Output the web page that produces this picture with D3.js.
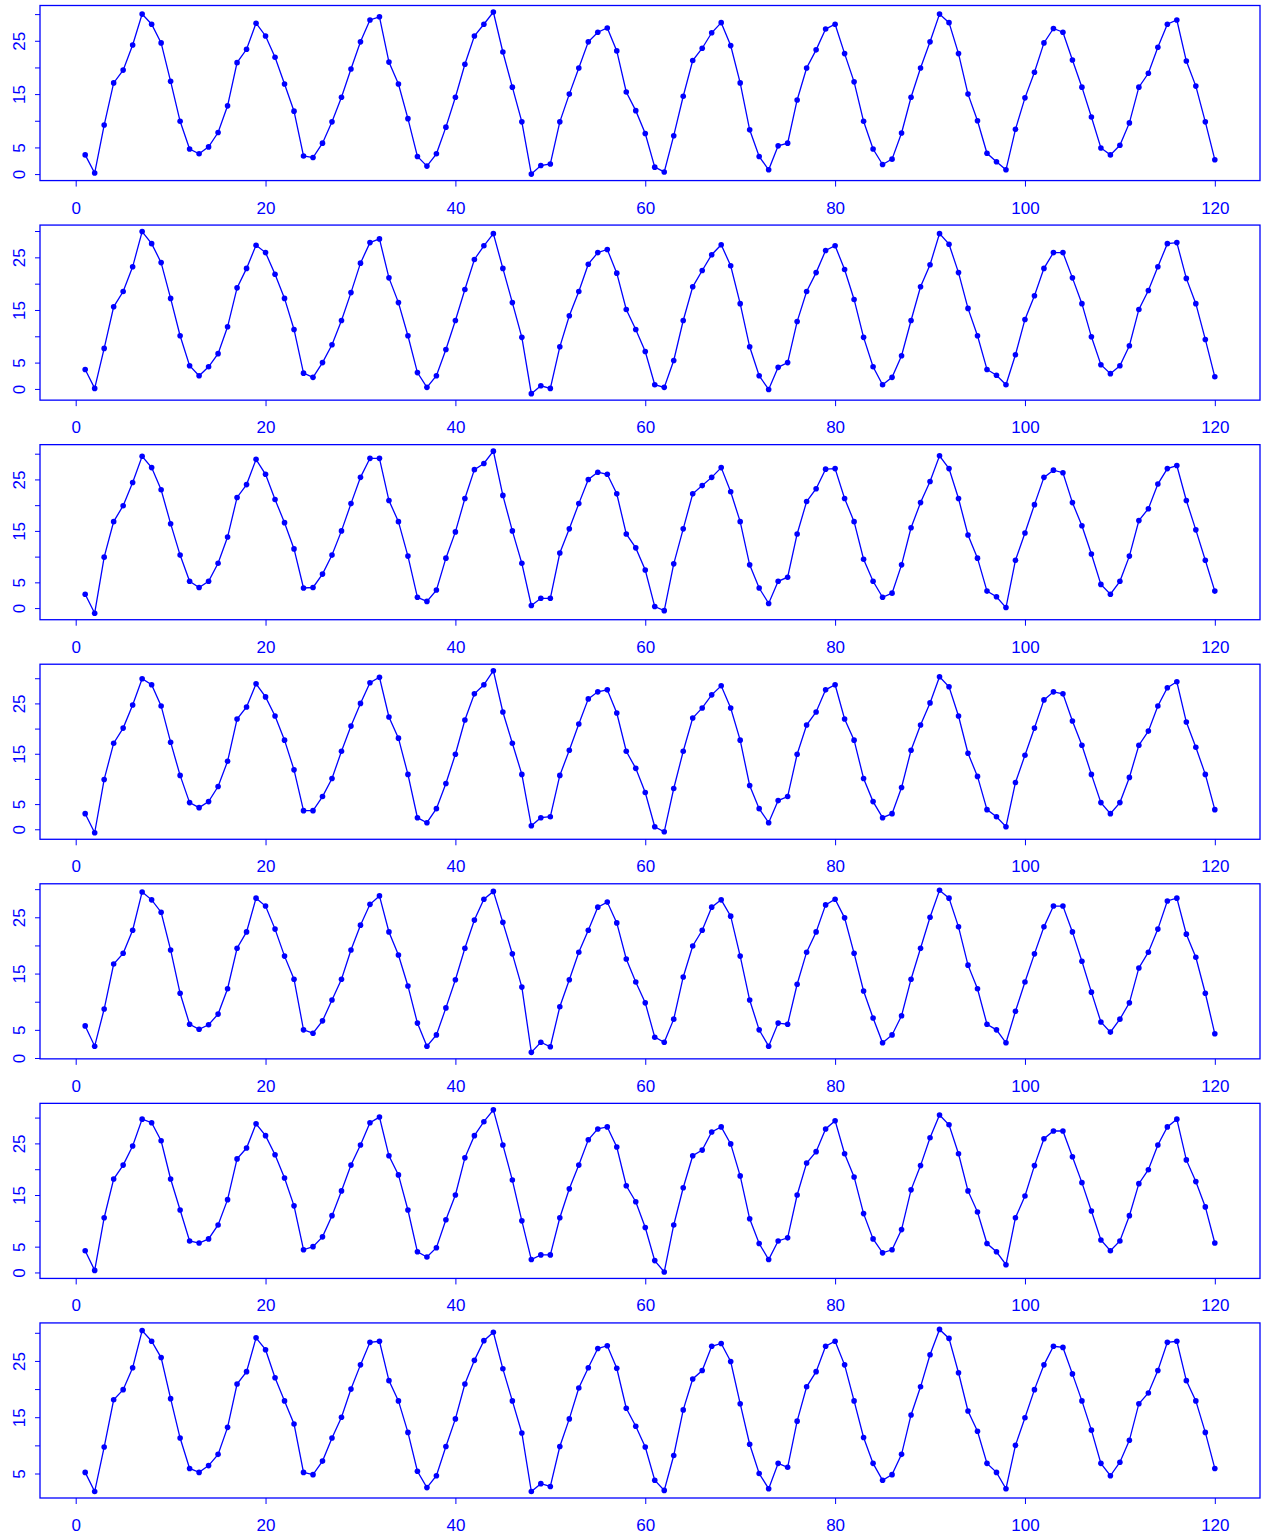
<!DOCTYPE html>
<html lang="en">
<head>
<meta charset="UTF-8">
<title>Seven series</title>
<script src="https://d3js.org/d3.v7.min.js"></script>
<style>
  body { margin: 0; background: #fff; }
  svg text { font-family: "Liberation Sans", Arial, Helvetica, sans-serif; }
</style>
</head>
<body>
<script>
var t = d3.range(1, 121);

var s1 = [3.6,0.2,9.2,17.1,19.5,24.2,30.0,28.1,24.6,17.4, 9.9,4.7,3.8,5.1,7.8,12.8,20.9,23.4,28.3,25.9,
  21.9,16.9,11.8,3.4,3.1,5.8,9.8,14.4,19.7,24.8, 28.9,29.5,21.0,16.9,10.4,3.3,1.5,3.8,8.8,14.4,
  20.6,25.9,28.1,30.4,22.9,16.3,9.8,0.0,1.6,1.9, 9.8,15.0,19.9,24.8,26.6,27.4,23.1,15.4,11.9,7.6,
  1.3,0.4,7.2,14.6,21.3,23.6,26.5,28.4,24.1,17.1, 8.3,3.3,0.8,5.3,5.8,13.9,19.9,23.3,27.2,28.1,
  22.6,17.3,9.9,4.7,1.8,2.8,7.7,14.4,19.9,24.8, 30.0,28.4,22.6,15.0,10.0,3.9,2.3,0.8,8.4,14.3,
  19.1,24.6,27.3,26.6,21.4,16.3,10.7,4.9,3.6,5.4, 9.6,16.3,18.9,23.8,28.1,28.9,21.2,16.5,9.8,2.7];

var s2 = [3.7,0.1,7.7,15.6,18.5,23.2,29.9,27.6,24.0,17.2, 10.1,4.4,2.5,4.2,6.7,11.8,19.2,22.9,27.3,25.9,
  21.8,17.2,11.3,3.0,2.2,5.0,8.4,13.0,18.3,23.9, 27.8,28.5,21.1,16.4,10.1,3.1,0.3,2.5,7.5,13.0,
  18.9,24.6,27.2,29.5,22.9,16.4,9.8,-0.9,0.6,0.1, 8.0,13.9,18.5,23.7,25.9,26.5,22.0,15.1,11.3,7.1,
  0.8,0.3,5.4,13.0,19.4,22.5,25.5,27.4,23.4,16.2, 8.0,2.5,-0.1,4.1,5.0,12.8,18.5,22.1,26.3,27.2,
  22.7,17.0,9.8,4.2,0.8,2.2,6.3,13.0,19.4,23.6, 29.5,27.5,22.1,15.3,10.1,3.7,2.6,0.8,6.5,13.2,
  17.7,22.9,25.9,25.9,21.1,16.2,9.9,4.6,2.9,4.4, 8.2,15.1,18.7,23.2,27.6,27.8,21.0,16.2,9.4,2.3];

var s3 = [2.7,-1.0,9.9,16.8,19.9,24.4,29.5,27.3,23.0,16.4, 10.3,5.2,4.0,5.2,8.7,13.8,21.5,24.0,28.9,26.0,
  21.1,16.6,11.5,3.9,4.0,6.6,10.3,15.0,20.3,25.4, 29.1,29.1,20.9,16.8,10.1,2.1,1.3,3.5,9.7,14.8,
  21.3,26.9,28.1,30.5,21.9,15.0,8.7,0.5,1.9,1.9, 10.7,15.4,20.3,25.0,26.4,26.0,22.2,14.4,11.7,7.4,
  0.3,-0.5,8.6,15.4,22.2,23.8,25.4,27.3,22.6,16.8, 8.4,3.9,0.9,5.2,6.0,14.4,20.7,23.2,27.0,27.1,
  21.3,16.8,9.5,5.2,2.1,2.9,8.4,15.6,20.5,24.6, 29.6,27.1,21.3,14.2,9.7,3.3,2.2,0.1,9.3,14.6,
  20.1,25.4,26.8,26.3,20.5,16.0,10.5,4.6,2.7,5.2, 10.1,17.0,19.3,24.1,27.1,27.7,20.9,15.2,9.3,3.3];

var s4 = [3.1,-0.7,9.9,17.1,20.1,24.7,29.9,28.7,24.5,17.3, 10.7,5.3,4.3,5.5,8.5,13.5,21.9,24.3,28.9,26.3,
  22.5,17.7,11.8,3.7,3.7,6.5,10.1,15.5,20.5,25.0, 29.1,30.2,22.3,18.1,10.9,2.3,1.3,4.1,9.1,14.9,
  21.7,26.9,28.7,31.5,23.3,17.1,10.9,0.7,2.3,2.5, 10.7,15.7,20.9,25.9,27.3,27.7,23.1,15.5,12.1,7.3,
  0.5,-0.5,8.1,15.5,22.1,24.1,26.7,28.5,24.1,17.7, 8.7,4.1,1.3,5.7,6.5,14.9,20.7,23.3,27.7,28.7,
  21.9,17.7,10.1,5.5,2.3,3.1,8.3,15.7,20.7,25.1, 30.3,28.3,22.5,15.1,10.5,3.9,2.5,0.5,9.3,14.7,
  20.1,25.7,27.3,26.9,21.5,16.7,10.9,5.3,3.1,5.3, 10.3,16.7,19.5,24.5,28.1,29.3,21.3,16.3,10.9,3.9];

var s5 = [5.7,2.1,8.7,16.7,18.6,22.7,29.5,28.1,25.9,19.2, 11.5,6.0,5.1,5.9,7.8,12.3,19.5,22.4,28.4,27.0,
  22.9,18.1,14.0,5.0,4.4,6.6,10.3,14.0,19.2,23.6, 27.3,28.8,22.4,18.3,12.8,6.2,2.1,4.1,8.9,13.9,
  19.5,24.5,28.2,29.6,24.1,18.5,12.6,1.0,2.8,2.0, 9.1,13.9,18.8,22.7,26.8,27.7,24.0,17.6,13.5,9.8,
  3.7,2.8,6.9,14.4,19.9,22.7,26.8,28.1,25.2,18.1, 10.3,5.0,2.1,6.2,6.0,13.1,18.8,22.4,27.2,28.2,
  24.9,18.6,11.9,7.1,2.7,4.1,7.5,14.0,19.5,25.0, 29.8,28.4,23.3,16.5,12.3,6.0,5.0,2.7,8.3,13.5,
  18.5,23.3,27.0,27.0,22.4,17.2,11.7,6.4,4.6,6.9, 9.8,16.0,18.8,22.9,27.9,28.4,22.0,17.9,11.5,4.3];

var s6 = [4.2,0.4,10.6,18.1,20.8,24.5,29.7,29.0,25.5,18.1, 12.1,6.1,5.7,6.5,9.2,14.1,22.0,24.1,28.8,26.5,
  22.8,18.3,12.9,4.4,5.0,6.9,11.0,15.8,20.8,24.7, 29.0,30.1,22.6,18.9,12.1,4.0,3.0,4.8,10.2,15.0,
  22.2,26.5,29.2,31.5,24.7,17.9,10.0,2.5,3.4,3.4, 10.6,16.2,20.8,25.7,27.8,28.2,24.3,16.8,13.7,8.7,
  2.3,0.1,9.2,16.4,22.6,23.7,27.2,28.2,24.9,18.7, 10.4,5.6,2.5,6.1,6.7,15.0,21.2,23.4,27.8,29.4,
  23.0,18.5,11.4,6.5,3.8,4.4,8.3,16.0,20.7,26.1, 30.5,28.6,23.0,15.8,11.7,5.6,4.0,1.5,10.6,14.8,
  20.7,25.9,27.4,27.4,22.4,17.4,11.9,6.3,4.2,6.1, 11.0,17.2,19.9,24.7,28.2,29.7,21.8,17.6,12.7,5.7];

var s7 = [5.2,1.8,9.7,18.1,19.9,23.8,30.4,28.5,25.6,18.3, 11.3,5.9,5.2,6.4,8.4,13.2,20.9,23.1,29.1,27.0,
  22.0,17.9,13.8,5.2,4.8,7.2,11.3,15.0,20.0,24.3, 28.3,28.5,21.5,17.9,12.3,5.4,2.5,4.6,9.8,14.7,
  20.9,25.1,28.6,30.1,23.6,17.9,12.2,1.8,3.2,2.7, 9.8,14.7,20.2,23.8,27.2,27.7,23.7,16.6,13.4,9.7,
  3.8,2.0,8.2,16.3,21.8,23.3,27.6,28.1,24.9,17.4, 10.2,5.0,2.3,6.8,6.1,14.3,20.4,23.1,27.6,28.5,
  24.3,17.9,11.4,6.8,3.8,4.8,8.4,15.4,20.4,26.1, 30.6,29.0,22.9,16.1,12.5,6.8,5.2,2.3,10.0,14.9,
  19.9,24.3,27.6,27.4,22.7,17.9,12.7,6.8,4.6,7.0, 10.9,17.4,19.3,23.3,28.3,28.5,21.5,17.9,12.3,5.9];

var panels = [s1, s2, s3, s4, s5, s6, s7];

var xTicks = [0, 20, 40, 60, 80, 100, 120];
var yTicks = [0, 5, 10, 15, 20, 25, 30];
var yLabelled = [0, 5, 15, 25];   // the others get dropped (labels would overlap)

var W = 1262, H = 1537;
var blue = "#0000ff";
var panelH = H / panels.length;
var margin = {top: 5.5, bottom: 39, left: 40, right: 2};
var boxH = panelH - margin.top - margin.bottom;

var svg = d3.select("body").append("svg")
  .attr("width", W)
  .attr("height", H);

// R style: pad the data range by 4% on each side
function padded(lo, hi) {
  var d = (hi - lo) * 0.04;
  return [lo - d, hi + d];
}

var x = d3.scaleLinear()
  .domain(padded(1, 120))
  .range([margin.left, W - margin.right]);

panels.forEach(function(vals, i) {
  var top = i * panelH + margin.top;
  var bottom = top + boxH;
  var g = svg.append("g");

  var y = d3.scaleLinear()
    .domain(padded(d3.min(vals), d3.max(vals)))
    .range([bottom, top]);

  var line = d3.line()
    .x(function(d, j) { return x(t[j]); })
    .y(function(d) { return y(d); });

  g.append("path")
    .datum(vals)
    .attr("d", line)
    .attr("fill", "none")
    .attr("stroke", blue)
    .attr("stroke-width", 1.3);

  g.selectAll("circle")
    .data(vals)
    .enter()
    .append("circle")
    .attr("cx", function(d, j) { return x(t[j]); })
    .attr("cy", function(d) { return y(d); })
    .attr("r", 2.8)
    .attr("fill", blue);

  // x axis
  var xa = g.append("g")
    .attr("transform", "translate(0," + bottom + ")")
    .call(d3.axisBottom(x).tickValues(xTicks).tickSize(6).tickPadding(15).tickSizeOuter(0));
  xa.select(".domain").remove();
  xa.selectAll("line").attr("stroke", blue);
  xa.selectAll("text")
    .attr("fill", blue)
    .style("font-size", "17px");

  // y axis, rotated labels
  var yt = yTicks.filter(function(v) { return v >= y.domain()[0] && v <= y.domain()[1]; });
  var ya = g.append("g")
    .attr("transform", "translate(" + margin.left + ",0)")
    .call(d3.axisLeft(y).tickValues(yt).tickSize(5).tickSizeOuter(0)
      .tickFormat(function(v) { return yLabelled.indexOf(v) >= 0 ? v : ""; }));
  ya.select(".domain").remove();
  ya.selectAll("line").attr("stroke", blue);
  ya.selectAll("text")
    .attr("x", 0)
    .attr("dy", 0)
    .attr("transform", "translate(-15,0) rotate(-90)")
    .attr("fill", blue)
    .style("text-anchor", "middle")
    .style("font-size", "17px");

  // frame
  g.append("rect")
    .attr("x", margin.left)
    .attr("y", top)
    .attr("width", W - margin.right - margin.left)
    .attr("height", boxH)
    .attr("fill", "none")
    .attr("stroke", blue)
    .attr("stroke-width", 1.3);
});
</script>
</body>
</html>
